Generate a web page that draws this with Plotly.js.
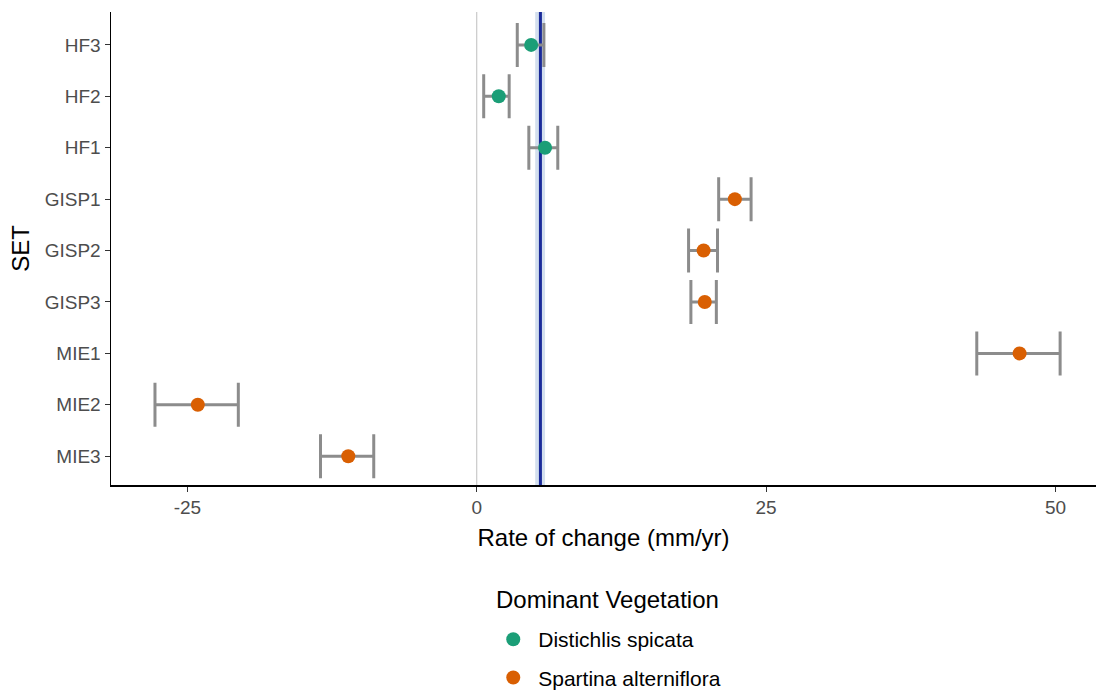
<!DOCTYPE html>
<html>
<head>
<meta charset="utf-8">
<script src="https://cdn.plot.ly/plotly-3.0.1.min.js"></script>
<style>
  body { margin: 0; background: #fff; }
  #chart { width: 1096px; height: 694px; }
</style>
</head>
<body>
<div id="chart"></div>
<script>
// SET sites, top to bottom
const sets = ["HF3", "HF2", "HF1", "GISP1", "GISP2", "GISP3", "MIE1", "MIE2", "MIE3"];
const vegetation = ["Distichlis spicata", "Distichlis spicata", "Distichlis spicata",
  "Spartina alterniflora", "Spartina alterniflora", "Spartina alterniflora",
  "Spartina alterniflora", "Spartina alterniflora", "Spartina alterniflora"];

// rate of change (mm/yr) and its interval
const rate = [4.7, 1.9, 5.9, 22.3, 19.6, 19.7, 46.9, -24.1, -11.1];
const rateLow = [3.5, 0.6, 4.5, 20.9, 18.3, 18.5, 43.2, -27.8, -13.5];
const rateHigh = [5.8, 2.8, 7.0, 23.7, 20.8, 20.7, 50.4, -20.6, -8.9];

// reference rate with its band
const refRate = 5.5;
const refLow = 5.05;
const refHigh = 5.9;

const vegNames = ["Distichlis spicata", "Spartina alterniflora"];
const vegColors = ["#1B9E77", "#D95F02"];

var traces = vegNames.map((name, k) => {
  let x = [], y = [], plus = [], minus = [];
  sets.forEach((s, i) => {
    if (vegetation[i] !== name) return;
    x.push(rate[i]);
    y.push(s);
    plus.push(rateHigh[i] - rate[i]);
    minus.push(rate[i] - rateLow[i]);
  });
  return {
    type: "scatter",
    mode: "markers",
    name: name,
    legendgroup: name,
    x: x,
    y: y,
    marker: { color: vegColors[k], size: 14 },
    error_x: {
      type: "data",
      symmetric: false,
      array: plus,
      arrayminus: minus,
      color: "#8C8C8C",
      thickness: 3,
      width: 22,
    },
  };
});

let layout = {
  width: 1096,
  height: 694,
  margin: { l: 111, r: 0, t: 12, b: 209, autoexpand: false },
  paper_bgcolor: "#fff",
  plot_bgcolor: "#fff",
  font: { family: "Liberation Sans, Arial, sans-serif", color: "#000" },
  showlegend: true,
  xaxis: {
    range: [-31.6, 53.5],
    tickvals: [-25, 0, 25, 50],
    ticktext: ["-25", "0", "25", "50"],
    showgrid: false,
    zeroline: false,
    showline: true,
    linecolor: "#000",
    linewidth: 1.5,
    ticks: "outside",
    ticklen: 5,
    tickcolor: "#333",
    tickfont: { size: 19, color: "#4D4D4D" },
    title: { text: "Rate of change (mm/yr)", font: { size: 24, color: "#000" }, standoff: 12 },
  },
  yaxis: {
    type: "category",
    categoryorder: "array",
    categoryarray: sets,
    range: [8.56, -0.64],
    showgrid: false,
    zeroline: false,
    showline: true,
    linecolor: "#000",
    linewidth: 1.5,
    ticks: "outside",
    ticklen: 5,
    tickcolor: "#333",
    tickfont: { size: 19, color: "#4D4D4D" },
    title: { text: "SET", font: { size: 24, color: "#000" }, standoff: 8 },
  },
  shapes: [
    { type: "line", xref: "x", yref: "paper", x0: 0, x1: 0, y0: 0, y1: 1,
      line: { color: "#BEBEBE", width: 1 }, layer: "below" },
    { type: "rect", xref: "x", yref: "paper", x0: refLow, x1: refHigh, y0: 0, y1: 1,
      fillcolor: "#D3DFEE", line: { width: 0 }, layer: "below" },
    { type: "line", xref: "x", yref: "paper", x0: refRate, x1: refRate, y0: 0, y1: 1,
      line: { color: "#1A2A99", width: 3 }, layer: "below" },
  ],
  annotations: [
    { text: "Dominant Vegetation", xref: "paper", yref: "paper", x: 0.5036, y: -0.243,
      xanchor: "center", yanchor: "middle", showarrow: false,
      font: { size: 24, color: "#000" } },
  ],
  legend: {
    orientation: "v",
    x: 0.383,
    xanchor: "left",
    y: -0.2835,
    yanchor: "top",
    traceorder: "grouped",
    tracegroupgap: 8,
    itemwidth: 40,
    font: { size: 21, color: "#000" },
  },
};

Plotly.newPlot("chart", traces, layout, { staticPlot: true });
</script>
</body>
</html>
